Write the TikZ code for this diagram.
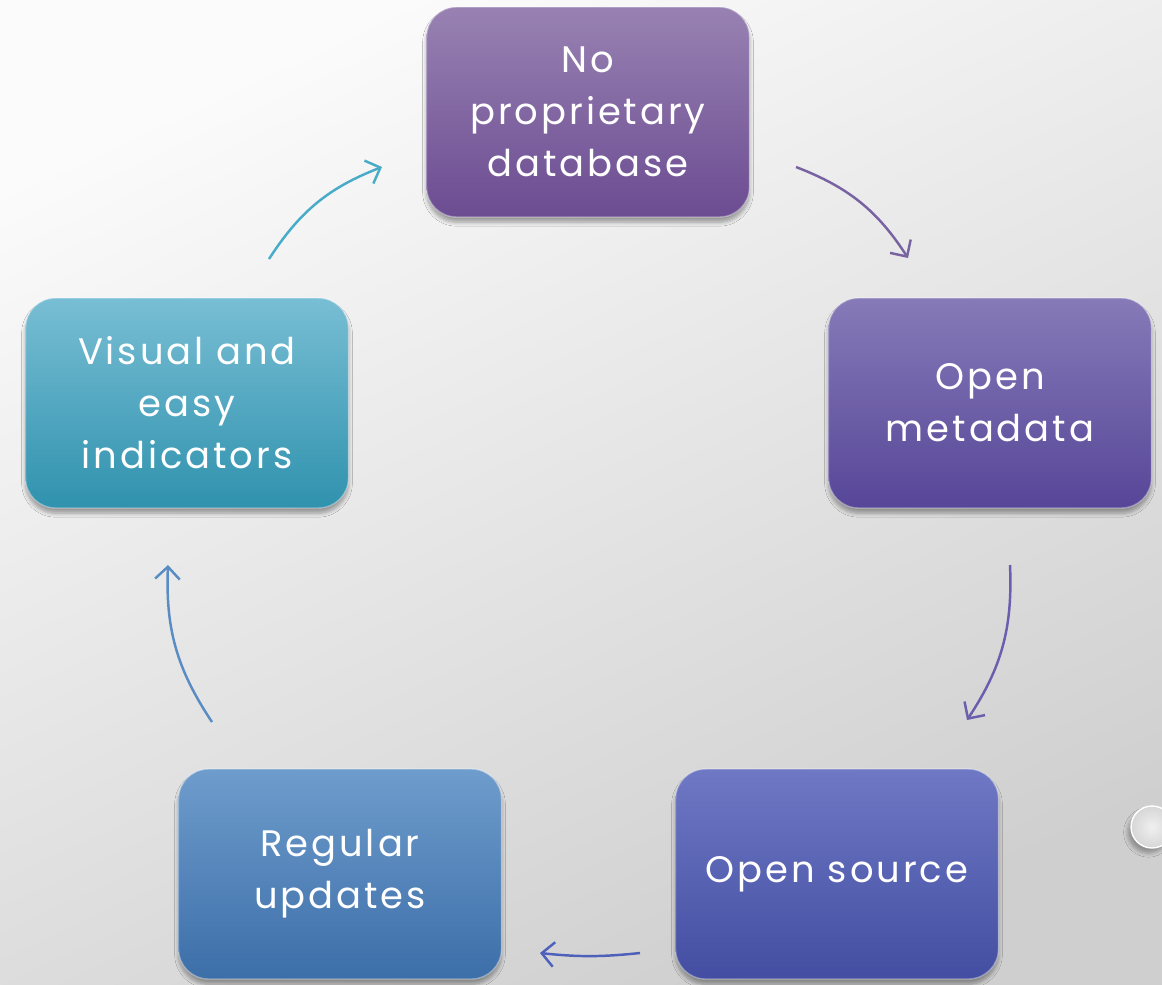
\documentclass[tikz,border=0pt]{standalone}
\usepackage{fontspec}
\setmainfont{Poppins}[LetterSpace=8]
\usetikzlibrary{arrows.meta,shadows.blur}

\definecolor{bgLight}{HTML}{FBFBFB}
\definecolor{bgDark}{HTML}{CFCFCF}
\definecolor{topA}{HTML}{9882B2}\definecolor{topB}{HTML}{6C4C92}
\definecolor{rightA}{HTML}{867AB8}\definecolor{rightB}{HTML}{574698}
\definecolor{brA}{HTML}{6E78C4}\definecolor{brB}{HTML}{434EA2}
\definecolor{blA}{HTML}{6E9CCC}\definecolor{blB}{HTML}{3C6EA8}
\definecolor{leftA}{HTML}{78BED4}\definecolor{leftB}{HTML}{3092AE}
\definecolor{arTop}{HTML}{7862A2}
\definecolor{arRight}{HTML}{6A5EAE}
\definecolor{arBottom}{HTML}{4E60BA}
\definecolor{arLeft}{HTML}{5A8CC4}
\definecolor{arUp}{HTML}{48ACC8}

\tikzset{
  stepbox/.style={rounded corners=0.6cm, minimum width=6.46cm, minimum height=4.2cm,
    align=center, text=white, font=\fontsize{21}{29.6}\selectfont,
    draw=white, draw opacity=0.35, line width=0.8pt,
    blur shadow={shadow xshift=0pt, shadow yshift=-3pt, shadow blur steps=6, shadow opacity=35}},
  cyclearrow/.style={line width=1.4pt, -{Straight Barb[length=7pt,width=14pt,line width=1.4pt]}},
}

\begin{document}
\begin{tikzpicture}[x=0.02cm, y=-0.02cm]
  % page and background
  \useasboundingbox (0,0) rectangle (1162,984);
  \shade[top color=bgLight, bottom color=bgDark, shading angle=25] (0,0) rectangle (1162,984);

  % small glass bead at the right edge
  \shade[inner color=gray!12, outer color=gray!32, draw=white, line width=0.8pt,
    blur shadow={shadow xshift=-2pt, shadow yshift=-3pt, shadow opacity=30}]
    (1152,827) circle[radius=21];

  % the five steps of the cycle
  \node[stepbox, top color=topA, bottom color=topB] (prop) at (588,112) {No\\proprietary\\database};
  \node[stepbox, top color=rightA, bottom color=rightB] (meta) at (990,403) {Open\\metadata};
  \node[stepbox, top color=brA, bottom color=brB] (src) at (837,874) {Open source};
  \node[stepbox, top color=blA, bottom color=blB] (upd) at (340,874) {Regular\\updates};
  \node[stepbox, top color=leftA, bottom color=leftB] (vis) at (187,403) {Visual and\\easy\\indicators};

  % arrow end points between the steps
  \coordinate (a1s) at (796,167); \coordinate (a1e) at (908,258);
  \coordinate (a2s) at (1010,565); \coordinate (a2e) at (967,720);
  \coordinate (a3s) at (640,953); \coordinate (a3e) at (540,953);
  \coordinate (a4s) at (212,722); \coordinate (a4e) at (168,565);
  \coordinate (a5s) at (269,259); \coordinate (a5e) at (382,167);

  \draw[cyclearrow, arTop] (a1s) to[bend left=18] (a1e);
  \draw[cyclearrow, arRight] (a2s) to[bend left=18] (a2e);
  \draw[cyclearrow, arBottom] (a3s) to[bend left=6] (a3e);
  \draw[cyclearrow, arLeft] (a4s) to[bend left=18] (a4e);
  \draw[cyclearrow, arUp] (a5s) to[bend left=18] (a5e);
\end{tikzpicture}
\end{document}
